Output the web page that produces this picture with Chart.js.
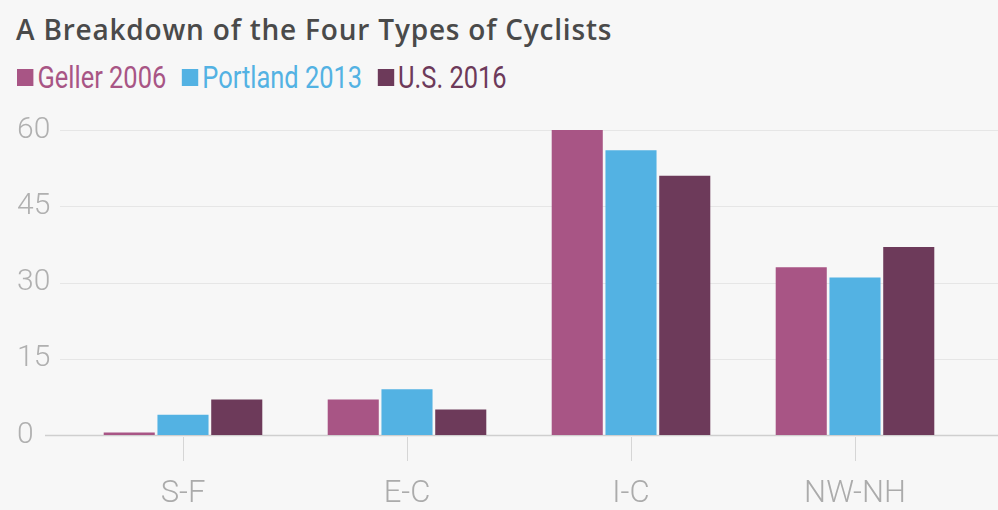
<!DOCTYPE html>
<html>
<head>
<meta charset="utf-8">
<script src="https://cdn.jsdelivr.net/npm/chart.js@4"></script>
<style>
  html, body { margin: 0; padding: 0; background: #f7f7f7; }
  #wrap { position: relative; width: 998px; height: 510px; }
  #title {
    position: absolute; left: 16px; top: 10px;
    font: 600 28px "Open Sans", Roboto, sans-serif; color: #4a4a4a; white-space: nowrap;
    letter-spacing: 0.8px;
  }
  #legend {
    position: absolute; left: 17px; top: 59px;
    font: 31px Roboto, sans-serif; white-space: nowrap;
    display: flex; align-items: center;
    transform: scaleX(0.82); transform-origin: 0 0;
  }
  #legend .item { display: flex; align-items: center; margin-right: 19px; }
  #legend .box { width: 20px; height: 17px; margin-right: 5px; }
  canvas { position: absolute; left: 0; top: 0; }
</style>
</head>
<body>
<div id="wrap">
  <div id="title">A Breakdown of the Four Types of Cyclists</div>
  <div id="legend"></div>
  <canvas id="chart" width="998" height="510"></canvas>
</div>
<script>
const categories = ['S-F', 'E-C', 'I-C', 'NW-NH'];
const seriesNames = ['Geller 2006', 'Portland 2013', 'U.S. 2016'];
const geller2006 = [0.5, 7, 60, 33];
const portland2013 = [4, 9, 56, 31];
const us2016 = [7, 5, 51, 37];
const yTicks = [0, 15, 30, 45, 60];

const colors = ['#a85585', '#53b2e3', '#6d3a5a'];
const seriesValues = [geller2006, portland2013, us2016];

// legend built as html so each label takes its series colour
const legend = document.getElementById('legend');
seriesNames.forEach((name, i) => {
  const item = document.createElement('div');
  item.className = 'item';
  item.innerHTML = `<span class="box" style="background:${colors[i]}"></span><span style="color:${colors[i]}">${name}</span>`;
  legend.appendChild(item);
});

// horizontal grid lines run wider than the category area
const wideGrid = {
  id: 'wideGrid',
  beforeDatasetsDraw(chart) {
    const { ctx } = chart;
    const y = chart.scales.y;
    ctx.save();
    yTicks.forEach(v => {
      const py = Math.round(y.getPixelForValue(v)) + 0.5;
      ctx.beginPath();
      if (v === 0) {
        ctx.strokeStyle = '#cfcfcf';
        ctx.lineWidth = 1.5;
        ctx.moveTo(45, py);
      } else {
        ctx.strokeStyle = '#e6e6e6';
        ctx.lineWidth = 1;
        ctx.moveTo(60, py);
      }
      ctx.lineTo(998, py);
      ctx.stroke();
    });
    ctx.restore();
  },
  // short ticks under each category, drawn after everything else
  afterDraw(chart) {
    const { ctx } = chart;
    const x = chart.scales.x;
    const base = Math.round(chart.scales.y.getPixelForValue(0));
    ctx.save();
    ctx.strokeStyle = '#d6d6d6';
    ctx.lineWidth = 1;
    categories.forEach((c, i) => {
      const px = Math.round(x.getPixelForValue(i)) + 0.5;
      ctx.beginPath();
      ctx.moveTo(px, base + 2);
      ctx.lineTo(px, base + 26);
      ctx.stroke();
    });
    ctx.restore();
  }
};

new Chart(document.getElementById('chart'), {
  type: 'bar',
  data: {
    labels: categories,
    datasets: seriesNames.map((name, i) => ({
      label: name,
      data: seriesValues[i],
      backgroundColor: colors[i],
      categoryPercentage: 0.72,
      barPercentage: 0.95
    }))
  },
  options: {
    responsive: false,
    animation: false,
    layout: { padding: { top: 130, left: 17, right: 31, bottom: 0 } },
    plugins: {
      legend: { display: false },
      title: { display: false },
      tooltip: { enabled: false }
    },
    scales: {
      x: {
        afterFit(scale) { scale.height = 75; },
        border: { display: false },
        grid: { display: false },
        ticks: {
          padding: 33,
          color: '#ababab',
          font: { family: 'Roboto', size: 31, weight: '300' }
        }
      },
      y: {
        min: 0,
        max: 60,
        afterFit(scale) { scale.width = 54; },
        afterBuildTicks(scale) { scale.ticks = yTicks.map(v => ({ value: v })); },
        border: { display: false },
        grid: { display: false },
        ticks: {
          crossAlign: 'far',
          color: '#b0b0b0',
          font: { family: 'Roboto', size: 30, weight: '300' }
        }
      }
    }
  },
  plugins: [wideGrid]
});
</script>
</body>
</html>
